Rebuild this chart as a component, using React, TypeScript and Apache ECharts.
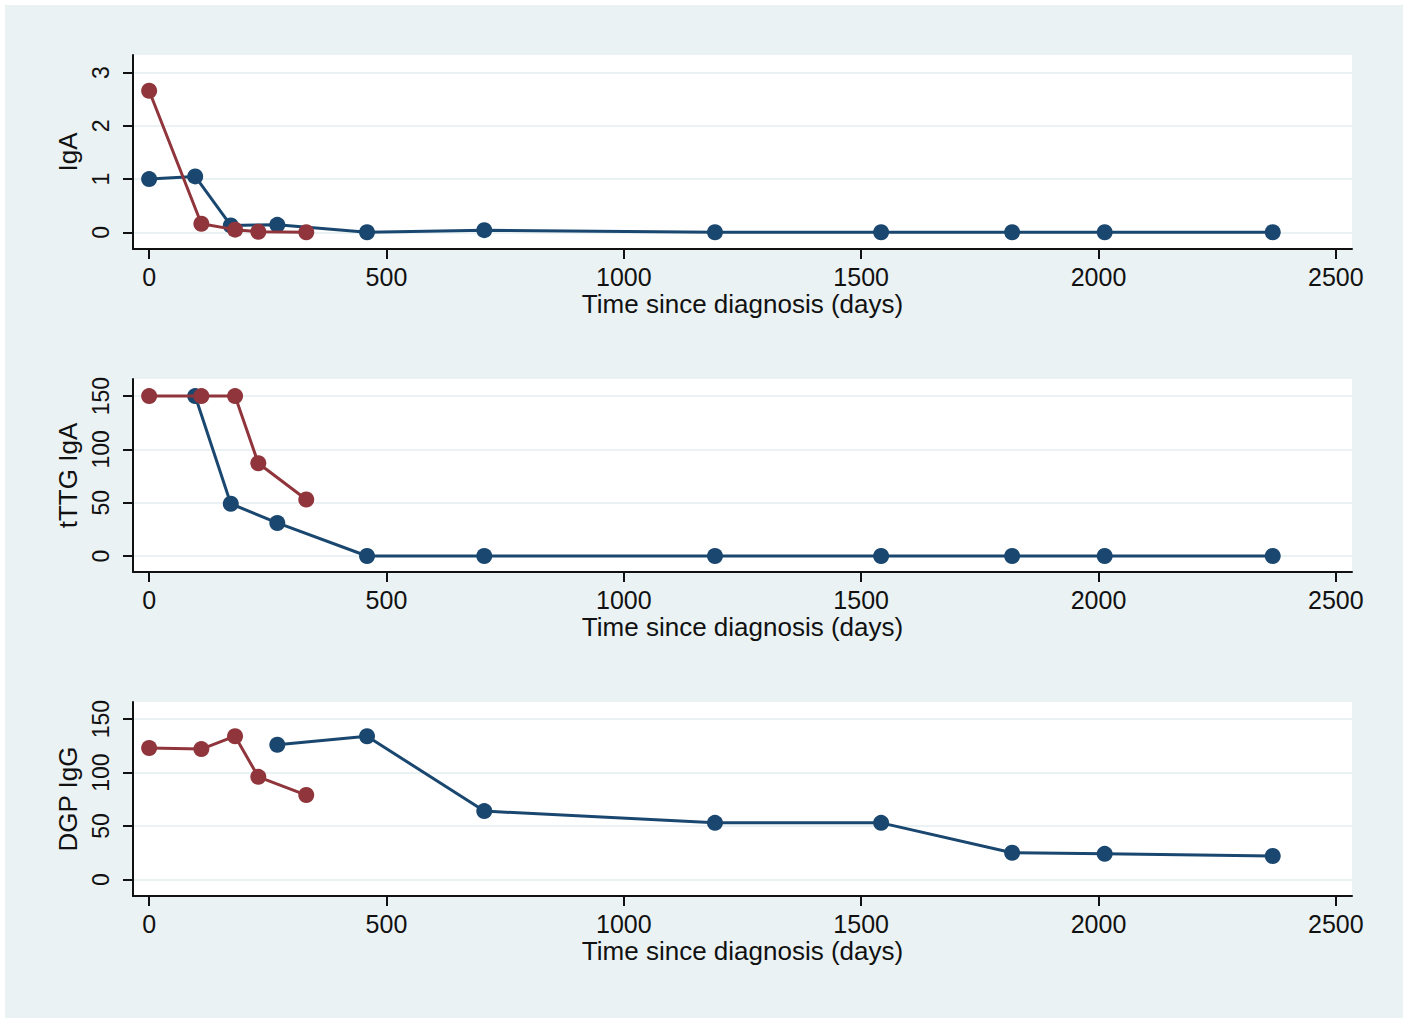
import React, { useEffect, useRef } from "react";
import * as echarts from "echarts";

// Days since diagnosis for each patient's measurements
const blueDays = [0, 97, 172, 270, 459, 706, 1192, 1542, 1818, 2013, 2367];
const redDays = [0, 110, 181, 230, 331];

// Panel 1: IgA
const igaBlue = [1.0, 1.05, 0.13, 0.14, 0.0, 0.04, 0.0, 0.0, 0.0, 0.0, 0.0];
const igaRed = [2.66, 0.16, 0.05, 0.01, 0.0];

// Panel 2: tTTG IgA (blue has no value at day 0)
const tTTGBlueDays = [97, 172, 270, 459, 706, 1192, 1542, 1818, 2013, 2367];
const tTTGBlue = [150, 49, 31, 0, 0, 0, 0, 0, 0, 0];
const tTTGRed = [150, 150, 150, 87, 53];

// Panel 3: DGP IgG (blue starts at day 270)
const dgpBlueDays = [270, 459, 706, 1192, 1542, 1818, 2013, 2367];
const dgpBlue = [126, 134, 64, 53, 53, 25, 24, 22];
const dgpRed = [123, 122, 134, 96, 79];

const xTicks = [0, 500, 1000, 1500, 2000, 2500];
const igaTicks = [0, 1, 2, 3];
const ttgTicks = [0, 50, 100, 150];
const dgpTicks = [0, 50, 100, 150];

const yNames = ["IgA", "tTTG IgA", "DGP IgG"];
const xName = "Time since diagnosis (days)";

const BLUE = "#1a476f";
const RED = "#90353b";
const BG = "#eaf2f3";
const FONT = "Liberation Sans, Arial, sans-serif";

const pairs = (xs: number[], ys: number[]) => xs.map((x, i) => [x, ys[i]]);

export default function App() {
  const ref = useRef<HTMLDivElement>(null);
  useEffect(() => {
    if (!ref.current) return;
    const chart = echarts.init(ref.current, undefined, { renderer: "svg" });

    const grids = [
      { left: 133, top: 55, width: 1219, height: 194 },
      { left: 133, top: 379, width: 1219, height: 193 },
      { left: 133, top: 702, width: 1219, height: 194 },
    ].map((g) => ({ ...g, show: true, backgroundColor: "#ffffff", borderWidth: 0 }));

    const yRanges = [
      [-0.314, 3.333, igaTicks],
      [-15, 166, ttgTicks],
      [-15.4, 166, dgpTicks],
    ] as [number, number, number[]][];

    const xAxes = [0, 1, 2].map((i) => ({
      type: "value",
      gridIndex: i,
      min: -34,
      max: 2534,
      name: xName,
      nameLocation: "middle",
      nameGap: 42,
      nameTextStyle: { fontSize: 26, color: "#111", fontFamily: FONT },
      axisLine: { show: true, onZero: false, lineStyle: { color: "#111", width: 2 } },
      axisTick: { show: true, length: 10, customValues: xTicks, lineStyle: { color: "#111", width: 2 } },
      axisLabel: {
        customValues: xTicks,
        margin: 15,
        fontSize: 25,
        color: "#111",
        fontFamily: FONT,
        formatter: (v: number) => String(v),
      },
      splitLine: { show: false },
    }));

    const yAxes = yRanges.map(([mn, mx, ticks], i) => ({
      type: "value",
      gridIndex: i,
      min: mn,
      max: mx,
      name: yNames[i],
      nameLocation: "middle",
      nameGap: 46,
      nameTextStyle: { fontSize: 26, color: "#111", fontFamily: FONT },
      axisLine: { show: true, onZero: false, lineStyle: { color: "#111", width: 2 } },
      axisTick: { show: true, length: 10, customValues: ticks, lineStyle: { color: "#111", width: 2 } },
      axisLabel: {
        customValues: ticks,
        rotate: 90,
        margin: 21,
        fontSize: 23,
        color: "#111",
        fontFamily: FONT,
        formatter: (v: number) => String(v),
      },
      splitLine: { show: true, lineStyle: { color: BG, width: 2 } },
    }));

    const mk = (data: number[][], color: string, idx: number, z: number) => ({
      type: "line",
      xAxisIndex: idx,
      yAxisIndex: idx,
      data,
      symbol: "circle",
      symbolSize: 16,
      z,
      lineStyle: { color, width: 3 },
      itemStyle: { color },
      emphasis: { disabled: true },
    });

    chart.setOption({
      animation: false,
      backgroundColor: "#ffffff",
      graphic: [
        {
          type: "rect",
          z: -10,
          silent: true,
          shape: { x: 5, y: 5, width: 1398, height: 1013 },
          style: { fill: BG },
        },
      ],
      grid: grids,
      xAxis: xAxes,
      yAxis: yAxes,
      series: [
        mk(pairs(blueDays, igaBlue), BLUE, 0, 2),
        mk(pairs(redDays, igaRed), RED, 0, 3),
        mk(pairs(tTTGBlueDays, tTTGBlue), BLUE, 1, 2),
        mk(pairs(redDays, tTTGRed), RED, 1, 3),
        mk(pairs(dgpBlueDays, dgpBlue), BLUE, 2, 2),
        mk(pairs(redDays, dgpRed), RED, 2, 3),
      ],
    });
    return () => chart.dispose();
  }, []);
  return (
    <div
      ref={ref}
      style={{ position: "absolute", left: 0, top: 0, width: 1410, height: 1021 }}
    />
  );
}
